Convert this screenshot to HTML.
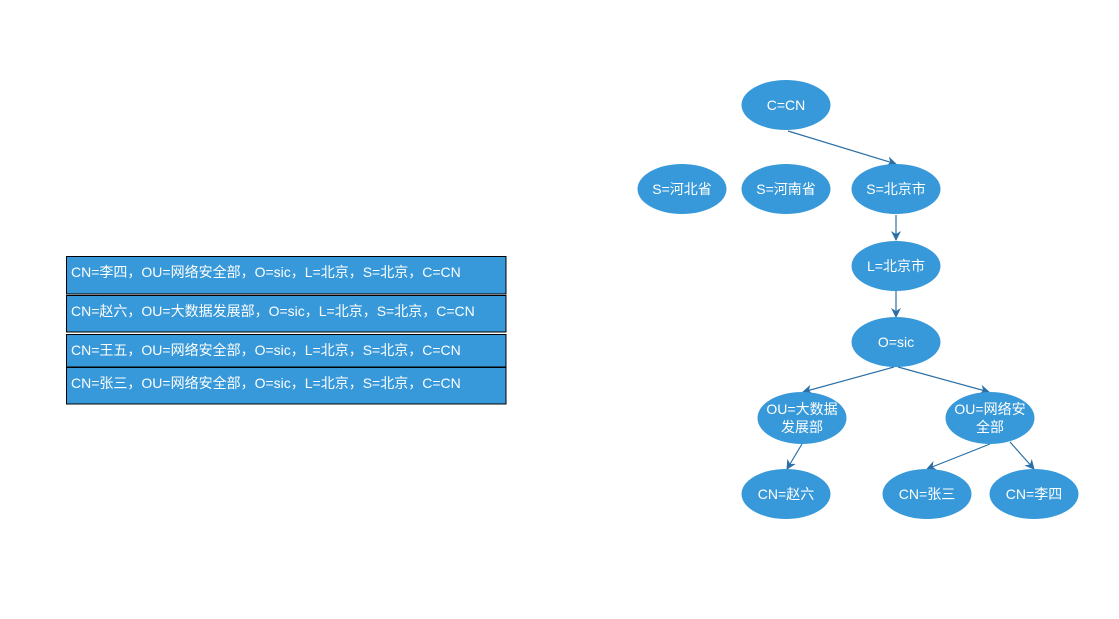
<!DOCTYPE html>
<html><head><meta charset="utf-8"><style>
html,body{margin:0;padding:0;background:#fff;width:1119px;height:619px;overflow:hidden}
svg text{font-family:"Liberation Sans","Noto Sans CJK SC",sans-serif;font-size:14px;fill:#fff}
</style></head><body>
<svg width="1119" height="619" viewBox="0 0 1119 619" xmlns="http://www.w3.org/2000/svg">
<defs><marker id="a" markerWidth="10" markerHeight="10" refX="9" refY="5" orient="auto" markerUnits="userSpaceOnUse"><path d="M0,0 L10,5 L0,10 L3,5 Z" fill="#2a6fa6"/></marker></defs>
<g stroke="#000" stroke-width="1" fill="#3799d9">
<rect x="66.5" y="256.5" width="439.5" height="37.5"/>
<rect x="66.5" y="295.5" width="439.5" height="36.5"/>
<rect x="66.5" y="334.5" width="439.5" height="32.5"/>
<rect x="66.5" y="367.5" width="439.5" height="36.5"/>
</g>
<text x="71" y="277">CN=李四，OU=网络安全部，O=sic，L=北京，S=北京，C=CN</text>
<text x="71" y="316">CN=赵六，OU=大数据发展部，O=sic，L=北京，S=北京，C=CN</text>
<text x="71" y="355">CN=王五，OU=网络安全部，O=sic，L=北京，S=北京，C=CN</text>
<text x="71" y="388">CN=张三，OU=网络安全部，O=sic，L=北京，S=北京，C=CN</text>
<g stroke="#2a6fa6" stroke-width="1.2" fill="none" marker-end="url(#a)">
<line x1="788" y1="131" x2="896" y2="164"/>
<line x1="896" y1="215" x2="896" y2="240"/>
<line x1="896" y1="291" x2="896" y2="317"/>
<line x1="894" y1="367" x2="803" y2="392"/>
<line x1="898" y1="367" x2="989" y2="392"/>
<line x1="802" y1="444" x2="787" y2="469"/>
<line x1="990" y1="444" x2="927" y2="469"/>
<line x1="1010" y1="442" x2="1034" y2="469"/>
</g>
<g fill="#3799d9">
<ellipse cx="786" cy="105" rx="44.5" ry="25"/>
<ellipse cx="682" cy="189" rx="44.5" ry="25"/>
<ellipse cx="786" cy="189" rx="44.5" ry="25"/>
<ellipse cx="896" cy="189" rx="44.5" ry="25"/>
<ellipse cx="896" cy="266" rx="44.5" ry="25"/>
<ellipse cx="896" cy="342" rx="44.5" ry="25"/>
<ellipse cx="802" cy="418" rx="44.5" ry="26"/>
<ellipse cx="990" cy="418" rx="44.5" ry="26"/>
<ellipse cx="786" cy="494" rx="44.5" ry="25"/>
<ellipse cx="927" cy="494" rx="44.5" ry="25"/>
<ellipse cx="1034" cy="494" rx="44.5" ry="25"/>
</g>
<g text-anchor="middle">
<text x="786" y="110">C=CN</text>
<text x="682" y="194">S=河北省</text>
<text x="786" y="194">S=河南省</text>
<text x="896" y="194">S=北京市</text>
<text x="896" y="271">L=北京市</text>
<text x="896" y="347">O=sic</text>
<text x="802" y="414">OU=大数据</text>
<text x="802" y="432">发展部</text>
<text x="990" y="414">OU=网络安</text>
<text x="990" y="432">全部</text>
<text x="786" y="499">CN=赵六</text>
<text x="927" y="499">CN=张三</text>
<text x="1034" y="499">CN=李四</text>
</g>
</svg>
</body></html>
